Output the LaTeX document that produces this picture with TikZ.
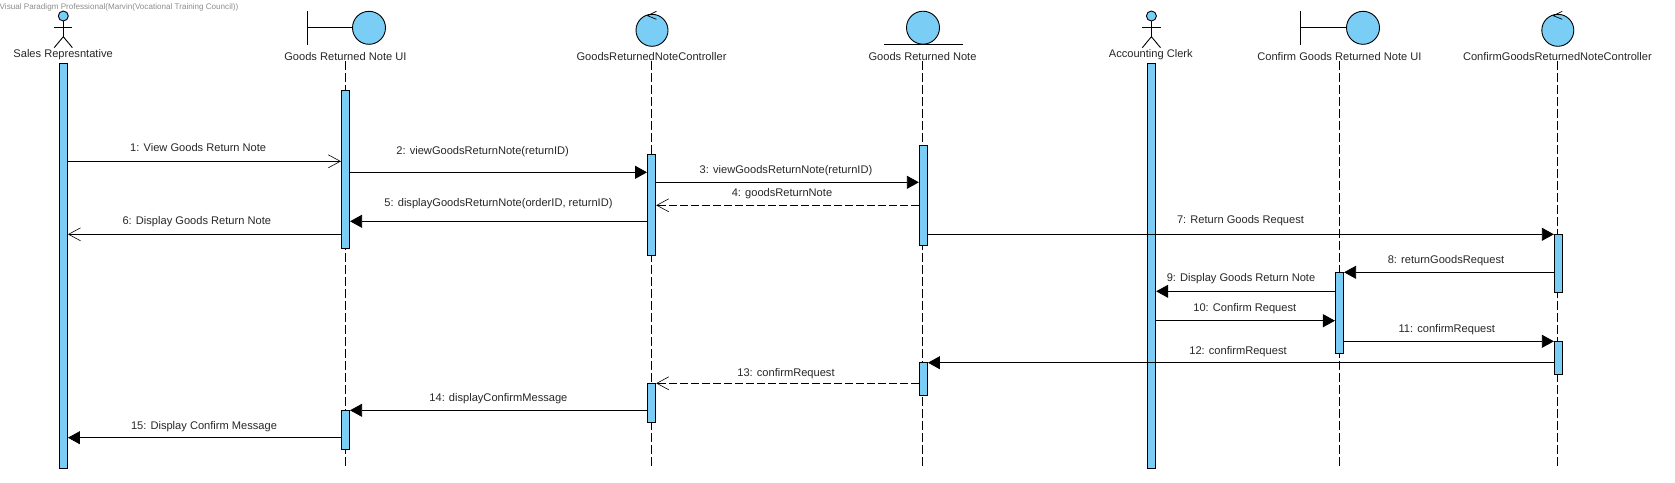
\documentclass[tikz,border=0pt]{standalone}
\usepackage{fontspec}
\setmainfont{Liberation Sans}
\usepackage{xcolor}
\usetikzlibrary{arrows.meta}
\definecolor{vpblue}{RGB}{122,205,245}
\tikzset{
  lifename/.style={font=\fontsize{11.1}{13}\selectfont,text=black!85,inner sep=0pt},
  msgtext/.style={font=\fontsize{11.1}{13}\selectfont,text=black!85,inner sep=0pt,yshift=-0.8pt},
  ball/.style={circle,draw,fill=vpblue,line width=0.9pt,inner sep=0pt,minimum size=33pt},
  actbar/.style={rectangle,draw,fill=vpblue,line width=0.9pt,inner sep=0pt,minimum width=8.2pt},
  lifeline/.style={line width=0.7pt,dash pattern=on 9pt off 3pt},
  syncmsg/.style={line width=0.8pt,-{Triangle[length=12pt,width=13pt]}},
  openmsg/.style={line width=0.8pt,-{Straight Barb[length=12pt,width=13pt,line width=0.6pt]}},
  retmsg/.style={openmsg,dash pattern=on 8pt off 3pt},
}
\begin{document}
\begin{tikzpicture}[x=1pt,y=-1pt]
  \useasboundingbox (0,0) rectangle (1675,482);
  \node[anchor=west,inner sep=0pt,text=black!45,font=\fontsize{8.1}{10}\selectfont] (mark) at (-0.5,7.7)
    {Visual Paradigm Professional(Marvin(Vocational Training Council))};

  % names above the lifelines
  \node[lifename] (salesname) at (63.1,54.3) {Sales Represntative};
  \node[lifename] (uiname) at (345.4,56.7) {Goods Returned Note UI};
  \node[lifename] (ctrlname) at (651.5,56.7) {GoodsReturnedNoteController};
  \node[lifename] (notename) at (922.5,56.7) {Goods Returned Note};
  \node[lifename] (clerkname) at (1150.8,54.3) {Accounting Clerk};
  \node[lifename] (cuiname) at (1339.4,56.7) {Confirm Goods Returned Note UI};
  \node[lifename] (cctrlname) at (1557.4,56.7) {ConfirmGoodsReturnedNoteController};

  % actors
  \foreach \who/\x in {sales/63.3,clerk/1151.4} {
    \node[ball,minimum size=10pt] (\who head) at (\x,16) {};
    \coordinate (\who hip) at (\x,36.7);
    \draw[line width=0.9pt] (\who head) -- (\who hip);
    \draw[line width=0.9pt] (\x-9.1,27.3) -- (\x+9.1,27.3);
    \draw[line width=0.9pt] (\x-9.1,47.7) -- (\who hip) -- (\x+9.1,47.7);
  }

  % boundary, control and entity heads
  \node[ball] (uiball) at (369,27.8) {};
  \draw[line width=0.9pt] (307.5,11) -- (307.5,44.7);
  \draw[line width=0.9pt] (307.5,27.8) -- (uiball);
  \node[ball] (cuiball) at (1363,27.8) {};
  \draw[line width=0.9pt] (1300.4,11) -- (1300.4,44.7);
  \draw[line width=0.9pt] (1300.4,27.8) -- (cuiball);
  \node[ball,minimum size=32pt] (ctrlball) at (652,30.3) {};
  \draw[line width=0.7pt] (656.4,11.3) -- (647.5,15.7) -- (656.4,19.3);
  \node[ball,minimum size=32pt] (cctrlball) at (1557.8,30.3) {};
  \draw[line width=0.7pt] (1562.2,11.3) -- (1553.3,15.7) -- (1562.2,19.3);
  \node[ball] (noteball) at (923,27.7) {};
  \draw[line width=0.9pt] (884,44.3) -- (962.9,44.3);

  % lifelines
  \foreach \who/\x in {ui/345.4,ctrl/651.6,note/922.5,cui/1339.4,cctrl/1557.5} {
    \coordinate (\who end) at (\x,467.7);
    \draw[lifeline] (\who name.south -| \who end) -- (\who end);
  }

  % activation bars
  \node[actbar,minimum height=405pt] (salesbar) at (63.4,265.5) {};
  \node[actbar,minimum height=158pt] (uibar) at (345.5,169) {};
  \node[actbar,minimum height=39pt] (uibarb) at (345.5,429.8) {};
  \node[actbar,minimum height=101.7pt] (ctrlbar) at (651.6,204.8) {};
  \node[actbar,minimum height=39pt] (ctrlbarb) at (651.6,402.8) {};
  \node[actbar,minimum height=100.4pt] (notebar) at (923.4,195.5) {};
  \node[actbar,minimum height=33pt] (notebarb) at (923.4,378.8) {};
  \node[actbar,minimum height=405pt] (clerkbar) at (1151.6,265.5) {};
  \node[actbar,minimum height=81pt] (cuibar) at (1339.5,312.8) {};
  \node[actbar,minimum height=58pt] (cctrlbar) at (1558.4,263.3) {};
  \node[actbar,minimum height=33pt] (cctrlbarb) at (1558.4,357.8) {};

  % messages
  \draw[openmsg] (salesbar.east |- 0,161.3) -- (uibar.west |- 0,161.3);
  \draw[syncmsg] (uibar.east |- 0,172.3) -- (ctrlbar.west |- 0,172.3);
  \draw[syncmsg] (ctrlbar.east |- 0,182.3) -- (notebar.west |- 0,182.3);
  \draw[retmsg] (notebar.west |- 0,205.3) -- (ctrlbar.east |- 0,205.3);
  \draw[syncmsg] (ctrlbar.west |- 0,221.3) -- (uibar.east |- 0,221.3);
  \draw[openmsg] (uibar.west |- 0,234.3) -- (salesbar.east |- 0,234.3);
  \draw[syncmsg] (notebar.east |- 0,234.3) -- (cctrlbar.west |- 0,234.3);
  \draw[syncmsg] (cctrlbar.west |- 0,272.3) -- (cuibar.east |- 0,272.3);
  \draw[syncmsg] (cuibar.west |- 0,291.3) -- (clerkbar.east |- 0,291.3);
  \draw[syncmsg] (clerkbar.east |- 0,320.7) -- (cuibar.west |- 0,320.7);
  \draw[syncmsg] (cuibar.east |- 0,341.3) -- (cctrlbarb.west |- 0,341.3);
  \draw[syncmsg] (cctrlbarb.west |- 0,362.7) -- (notebarb.east |- 0,362.7);
  \draw[retmsg] (notebarb.west |- 0,383.3) -- (ctrlbarb.east |- 0,383.3);
  \draw[syncmsg] (ctrlbarb.west |- 0,410.3) -- (uibarb.east |- 0,410.3);
  \draw[syncmsg] (uibarb.west |- 0,437.7) -- (salesbar.east |- 0,437.7);

  % message labels
  \node[msgtext] (msga) at (198.2,146.3) {1: View Goods Return Note};
  \node[msgtext] (msgb) at (482.7,151.3) {2: viewGoodsReturnNote(returnID)};
  \node[msgtext] (msgc) at (786,170.3) {3: viewGoodsReturnNote(returnID)};
  \node[msgtext] (msgd) at (782,193.3) {4: goodsReturnNote};
  \node[msgtext] (msge) at (498.5,203.3) {5: displayGoodsReturnNote(orderID, returnID)};
  \node[msgtext] (msgf) at (196.8,221.3) {6: Display Goods Return Note};
  \node[msgtext] (msgg) at (1240.5,220) {7: Return Goods Request};
  \node[msgtext] (msgh) at (1446,260) {8: returnGoodsRequest};
  \node[msgtext] (msgi) at (1241,278.3) {9: Display Goods Return Note};
  \node[msgtext] (msgj) at (1244.8,308.3) {10: Confirm Request};
  \node[msgtext] (msgk) at (1446.8,329) {11: confirmRequest};
  \node[msgtext] (msgl) at (1238,351.3) {12: confirmRequest};
  \node[msgtext] (msgm) at (786,373.3) {13: confirmRequest};
  \node[msgtext] (msgn) at (498.4,398.3) {14: displayConfirmMessage};
  \node[msgtext] (msgo) at (204,426.3) {15: Display Confirm Message};
\end{tikzpicture}
\end{document}
